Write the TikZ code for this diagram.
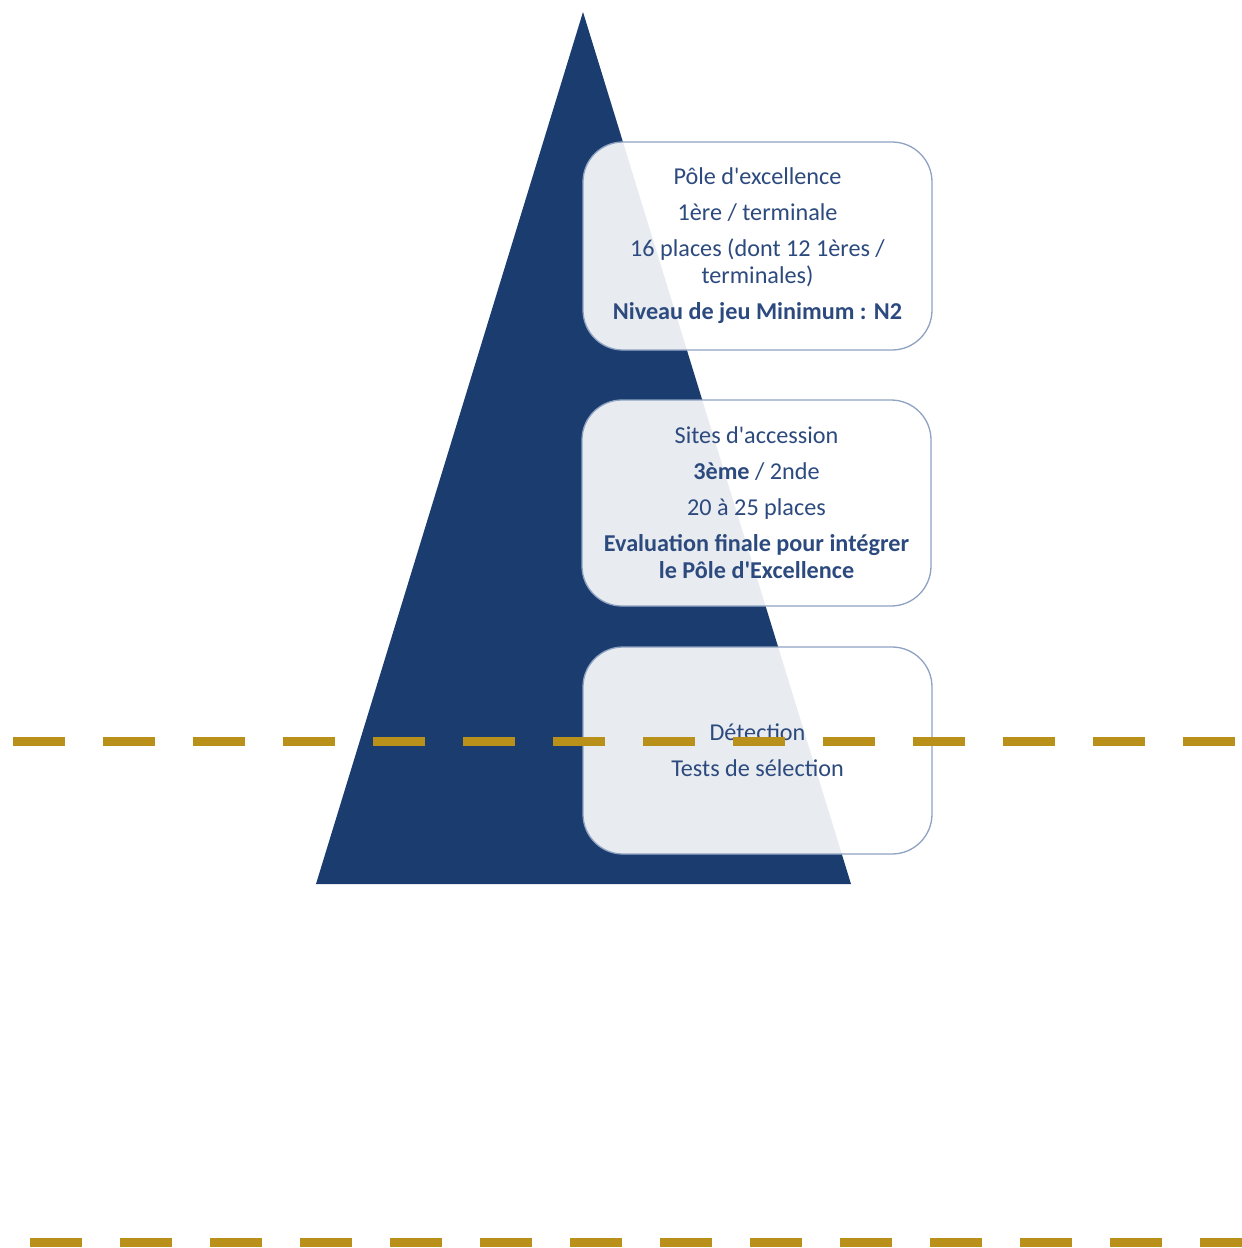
\documentclass[tikz,border=0pt]{standalone}
\usepackage{fontspec}
\setmainfont{Carlito}
\definecolor{navy}{HTML}{1B3C6E}
\definecolor{txtblue}{HTML}{2C4A7E}
\definecolor{boxline}{HTML}{8EA2C2}
\definecolor{gold}{HTML}{B8901A}
\newcommand{\apos}{\textquotesingle}
\begin{document}
\begin{tikzpicture}[x=1pt,y=-1pt,
  infobox/.style={draw=boxline, line width=1.3pt, rounded corners=40pt,
    fill=white, fill opacity=0.9, text opacity=1, text=txtblue,
    minimum width=349pt, align=center,
    font=\fontsize{24.2}{27}\selectfont},
  goldline/.style={draw=gold, line width=9pt, dash pattern=on 52pt off 38pt}]
\useasboundingbox (0,0) rectangle (1242,1248);
\fill[white] (0,0) rectangle (1242,1248);
% pyramid
\coordinate (apex) at (583,12);
\coordinate (bl) at (316,884);
\coordinate (br) at (851,884);
\fill[navy] (apex) -- (bl) -- (br) -- cycle;
% boxes
\node[infobox, minimum height=208pt] (b1) at (757.5,246) {P\^ole d\apos excellence\\[9pt]
1\`ere / terminale\\[9pt]
16 places (dont 12 1\`eres /\\ terminales)\\[9pt]
\textbf{Niveau de jeu Minimum : N2}};
\node[infobox, minimum height=206pt] (b2) at (756.5,503) {Sites d\apos accession\\[9pt]
\textbf{3\`eme} / 2nde\\[9pt]
20 \`a 25 places\\[9pt]
\textbf{Evaluation finale pour int\'egrer}\\ \textbf{le P\^ole d\apos Excellence}};
\node[infobox, minimum height=207pt] (b3) at (757.5,750.5) {D\'etection\\[9pt]
Tests de s\'election};
% dashed lines
\coordinate (l1a) at (13,741);
\coordinate (l1b) at (1242,741);
\coordinate (l2a) at (30,1242);
\coordinate (l2b) at (1242,1242);
\draw[goldline] (l1a) -- (l1b);
\draw[goldline] (l2a) -- (l2b);
\end{tikzpicture}
\end{document}
